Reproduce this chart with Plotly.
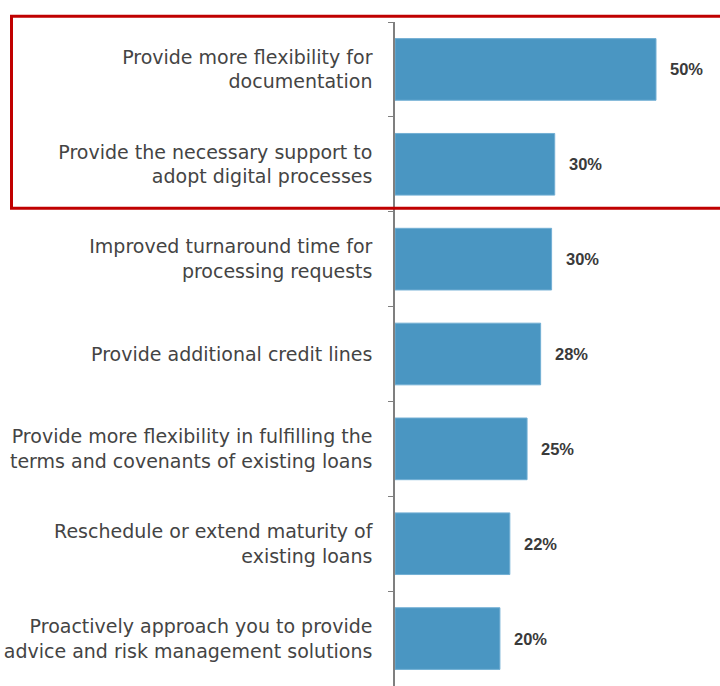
import plotly.graph_objects as go

categories = [
    "Provide more flexibility for<br>documentation",
    "Provide the necessary support to<br>adopt digital processes",
    "Improved turnaround time for<br>processing requests",
    "Provide additional credit lines",
    "Provide more flexibility in fulfilling the<br>terms and covenants of existing loans",
    "Reschedule or extend maturity of<br>existing loans",
    "Proactively approach you to provide<br>advice and risk management solutions",
]
values = [50.0, 30.6, 30.0, 27.9, 25.3, 22.0, 20.1]
value_labels = ["50%", "30%", "30%", "28%", "25%", "22%", "20%"]

fig = go.Figure()
fig.add_trace(go.Bar(
    x=values, y=categories, orientation="h",
    marker=dict(color="#4A96C2", line=dict(color="#72AFD4", width=1)),
    hoverinfo="skip",
))

for v, c, t in zip(values, categories, value_labels):
    fig.add_annotation(x=v, y=c, text=t, showarrow=False, xanchor="left",
                       xshift=12, font=dict(family="Liberation Sans, Arial", size=16.5,
                                            color="#3A3A3A", weight="bold"))

fig.add_shape(type="rect", xref="paper", yref="paper",
              x0=-1.18, x1=1.03, y0=0.7195, y1=1.0085,
              line=dict(color="#C00000", width=3), fillcolor="rgba(0,0,0,0)")

fig.update_layout(
    width=720, height=686,
    margin=dict(l=395, r=0, t=22, b=0),
    paper_bgcolor="white", plot_bgcolor="white",
    bargap=0.35, showlegend=False,
    font=dict(family="DejaVu Sans", size=19, color="#444444"),
)
fig.update_xaxes(range=[0, 62.26], visible=False, showgrid=False, zeroline=False)
fig.update_yaxes(autorange="reversed", showline=True, linecolor="#7F7F7F", linewidth=1.5,
                 ticks="outside", ticklen=5, tickcolor="#7F7F7F", tickson="boundaries",
                 ticklabelstandoff=17, showgrid=False, zeroline=False)

fig.write_html("out.html", config={"displayModeBar": False},
               post_script="document.body.style.margin='0';")
